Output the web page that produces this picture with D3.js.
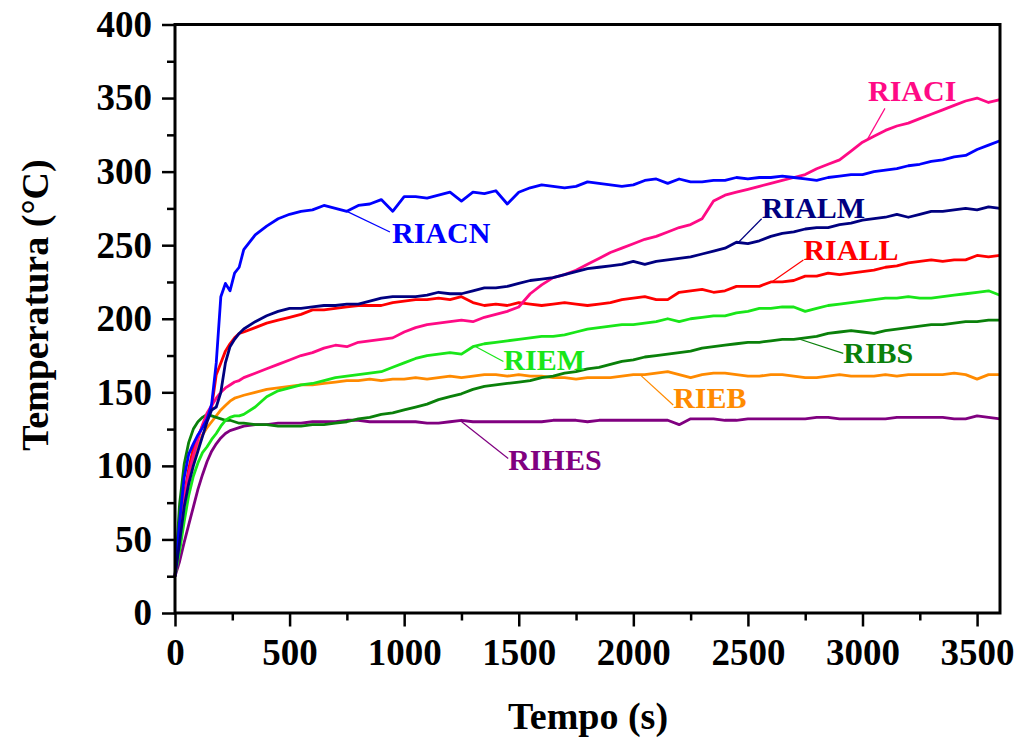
<!DOCTYPE html>
<html>
<head>
<meta charset="utf-8">
<script src="https://cdn.jsdelivr.net/npm/d3@7"></script>
<style>
  html, body { margin: 0; padding: 0; background: #fff; }
  svg { display: block; }
  text { font-family: "Liberation Serif", "Times New Roman", serif; font-weight: bold; }
</style>
</head>
<body>
<svg id="chart" width="1021" height="742"></svg>
<script>
// ---------------- DATA ----------------
const times = [0,20,40,60,80,100,120,140,160,180,200,220,240,260,280,
  300,350,400,450,500,550,600,650,700,750,800,850,900,950,1000,
  1050,1100,1150,1200,1250,1300,1350,1400,1450,1500,1550,1600,1650,1700,1750,1800,
  1850,1900,1950,2000,2050,2100,2150,2200,2250,2300,2350,2400,2450,2500,2550,2600,
  2650,2700,2750,2800,2850,2900,2950,3000,3050,3100,3150,3200,3250,3300,3350,3400,
  3450,3500,3550,3600];

const seriesNames = ["RIACN","RIACI","RIALM","RIALL","RIEM","RIBS","RIEB","RIHES"];

const RIACN = [25,62,92,108,115,121,126,132,142,170,215,224,219,231,235,
  247,257,263,268,271,273,274,277,275,273,277,278,281,273,283,
  283,282,284,286,280,286,285,287,278,286,289,291,290,289,290,293,
  292,291,290,291,294,295,292,295,293,293,294,294,296,295,296,296,
  297,296,295,294,296,297,298,298,300,301,302,304,305,307,308,310,
  311,315,318,321];

const RIACI = [25,52,78,95,107,118,128,136,141,146,150,153,155,157,158,
  160,163,166,169,172,175,177,180,182,181,184,185,186,187,191,
  194,196,197,198,199,198,201,203,205,208,217,223,228,230,233,237,
  241,245,248,251,254,256,259,262,264,268,280,284,286,288,290,292,
  294,296,298,302,305,308,314,320,324,328,331,333,336,339,342,345,
  348,350,347,349];

const RIALM = [25,48,72,88,100,110,120,130,138,140,150,170,181,186,190,
  193,198,202,205,207,207,208,209,209,210,210,212,214,215,215,
  215,216,218,217,217,219,221,221,222,224,226,227,228,230,232,234,
  235,236,237,239,237,239,240,241,242,244,246,248,252,251,253,256,
  258,259,261,262,262,264,265,267,268,269,271,269,271,273,273,274,
  275,274,276,275];

const RIALL = [25,55,80,98,112,120,127,132,140,162,170,178,183,187,190,
  191,194,197,199,201,203,206,206,207,208,209,209,209,211,212,
  213,213,214,213,215,211,209,210,209,211,210,209,210,211,210,209,
  210,211,213,214,215,213,213,218,219,220,218,219,222,222,222,225,
  225,226,229,229,231,230,231,232,233,235,236,238,239,240,239,240,
  240,243,242,243];

const RIEM = [25,42,62,80,93,102,109,113,118,122,127,131,133,134,134,
  135,140,147,151,153,155,156,158,160,161,162,163,164,167,170,
  173,175,176,177,176,181,183,184,185,186,187,188,188,189,191,193,
  194,195,196,196,197,198,200,198,200,201,202,202,204,205,207,207,
  208,208,205,207,209,210,211,212,213,214,214,215,214,214,215,216,
  217,218,219,216];

const RIBS = [25,74,101,116,125,130,133,135,134,133,132,131,131,130,129,
  129,128,128,127,127,127,128,128,129,130,132,133,135,136,138,
  140,142,145,147,149,152,154,155,156,157,158,160,161,163,164,166,
  167,169,171,172,174,175,176,177,178,180,181,182,183,184,184,185,
  186,186,187,188,190,191,192,191,190,192,193,194,195,196,196,197,
  198,198,199,199];

const RIEB = [25,48,72,90,102,113,121,126,130,134,138,141,144,146,147,
  148,150,152,153,154,155,155,156,157,158,158,159,158,159,159,
  160,159,160,161,160,161,162,162,161,162,161,161,160,160,159,160,
  160,160,161,162,162,163,164,162,160,162,163,163,162,161,161,162,
  162,161,160,160,161,162,161,161,161,162,161,162,162,162,162,163,
  162,159,162,162];

const RIHES = [25,35,48,60,72,84,94,103,110,115,119,122,124,125,126,
  127,128,128,129,129,129,130,130,130,131,131,130,130,130,130,
  130,129,129,130,131,130,130,130,130,130,130,130,131,131,131,130,
  131,131,131,131,131,131,131,128,132,132,132,131,131,132,132,132,
  132,132,132,133,133,132,132,132,132,132,133,133,133,133,133,132,
  132,134,133,132];

const seriesColors = ["#0000ff","#ff0a85","#000080","#ff0000","#19e619","#0a800a","#ff8a00","#800080"];

// label annotations: series anchor time, label position (data coords)
const annotAnchorT = [750, 3020, 2458, 2604, 1309, 2720, 2029, 1244];
const annotEndT    = [938, 3098, 2560, 2742, 1433, 2916, 2174, 1454];
const annotEndV    = [259, 343, 268, 240, 171, 176.5, 141.4, 105];
const annotTextT   = [947, 3024, 2560, 2742, 1433, 2916, 2174, 1454];
const annotTextV   = [251.5, 348, 268.3, 240, 165, 170, 139.3, 97.2];

const xMajorTicks = [0,500,1000,1500,2000,2500,3000,3500];
const xMinorTicks = [250,750,1250,1750,2250,2750,3250];
const yMajorTicks = [0,50,100,150,200,250,300,350,400];
const yMinorTicks = [25,75,125,175,225,275,325,375];

const xTitle = "Tempo (s)";
const yTitle = "Temperatura (°C)";

// ---------------- CHART ----------------
const allSeries = [RIACN, RIACI, RIALM, RIALL, RIEM, RIBS, RIEB, RIHES];
const svg = d3.select("#chart");
const L = 175, R = 1000, T = 24.5, B = 613;

const x = d3.scaleLinear().domain([0, 3600]).range([L, R]);
const y = d3.scaleLinear().domain([0, 400]).range([B, T]);

const line = d3.line().x((d,i) => x(times[i])).y(d => y(d));

// draw series (reverse so first ones on top)
const drawOrder = [7,6,5,4,3,1,0,2];
drawOrder.forEach(k => {
  svg.append("path")
    .datum(allSeries[k])
    .attr("fill", "none")
    .attr("stroke", seriesColors[k])
    .attr("stroke-width", 2.8)
    .attr("stroke-linejoin", "round")
    .attr("d", line);
});

function valueAt(arr, t) {
  const i = d3.bisectLeft(times, t);
  if (i <= 0) return arr[0];
  if (i >= times.length) return arr[arr.length - 1];
  const t0 = times[i-1], t1 = times[i];
  const f = (t - t0) / (t1 - t0);
  return arr[i-1] + f * (arr[i] - arr[i-1]);
}

// annotations
seriesNames.forEach((name, k) => {
  const a = annotAnchorT[k];
  svg.append("line")
    .attr("x1", x(a)).attr("y1", y(valueAt(allSeries[k], a)))
    .attr("x2", x(annotEndT[k])).attr("y2", y(annotEndV[k]))
    .attr("stroke", seriesColors[k]).attr("stroke-width", 1.2);
  svg.append("text")
    .attr("x", x(annotTextT[k])).attr("y", y(annotTextV[k]))
    .attr("fill", seriesColors[k])
    .attr("font-size", 30)
    .text(name);
});

// axes
const fs = 37;
const xAxis = svg.append("g").attr("transform", `translate(0,${B})`)
  .call(d3.axisBottom(x).tickValues(xMajorTicks).tickFormat(d3.format("d")).tickSize(13.5).tickPadding(12));
const xMinor = svg.append("g").attr("transform", `translate(0,${B})`)
  .call(d3.axisBottom(x).tickValues(xMinorTicks).tickFormat("").tickSize(7.5));
const yAxis = svg.append("g").attr("transform", `translate(${L},0)`)
  .call(d3.axisLeft(y).tickValues(yMajorTicks).tickFormat(d3.format("d")).tickSize(13).tickPadding(10));
const yMinor = svg.append("g").attr("transform", `translate(${L},0)`)
  .call(d3.axisLeft(y).tickValues(yMinorTicks).tickFormat("").tickSize(8));

[xAxis, xMinor, yAxis, yMinor].forEach(g => {
  g.select(".domain").remove();
  g.selectAll("line").attr("stroke", "#000").attr("stroke-width", 2.5);
  g.selectAll("text").attr("font-size", fs).attr("fill", "#000")
    .style("font-family", '"Liberation Serif", "Times New Roman", serif').style("font-weight", "bold");
});

// frame
svg.append("rect")
  .attr("x", L).attr("y", T).attr("width", R - L).attr("height", B - T)
  .attr("fill", "none").attr("stroke", "#000").attr("stroke-width", 3);

// titles
svg.append("text")
  .attr("x", 588).attr("y", 729)
  .attr("text-anchor", "middle").attr("font-size", 38)
  .attr("fill", "#000")
  .text(xTitle);

svg.append("text")
  .attr("transform", "translate(48,305) rotate(-90)")
  .attr("text-anchor", "middle").attr("font-size", 38)
  .attr("fill", "#000")
  .text(yTitle);
</script>
</body>
</html>
